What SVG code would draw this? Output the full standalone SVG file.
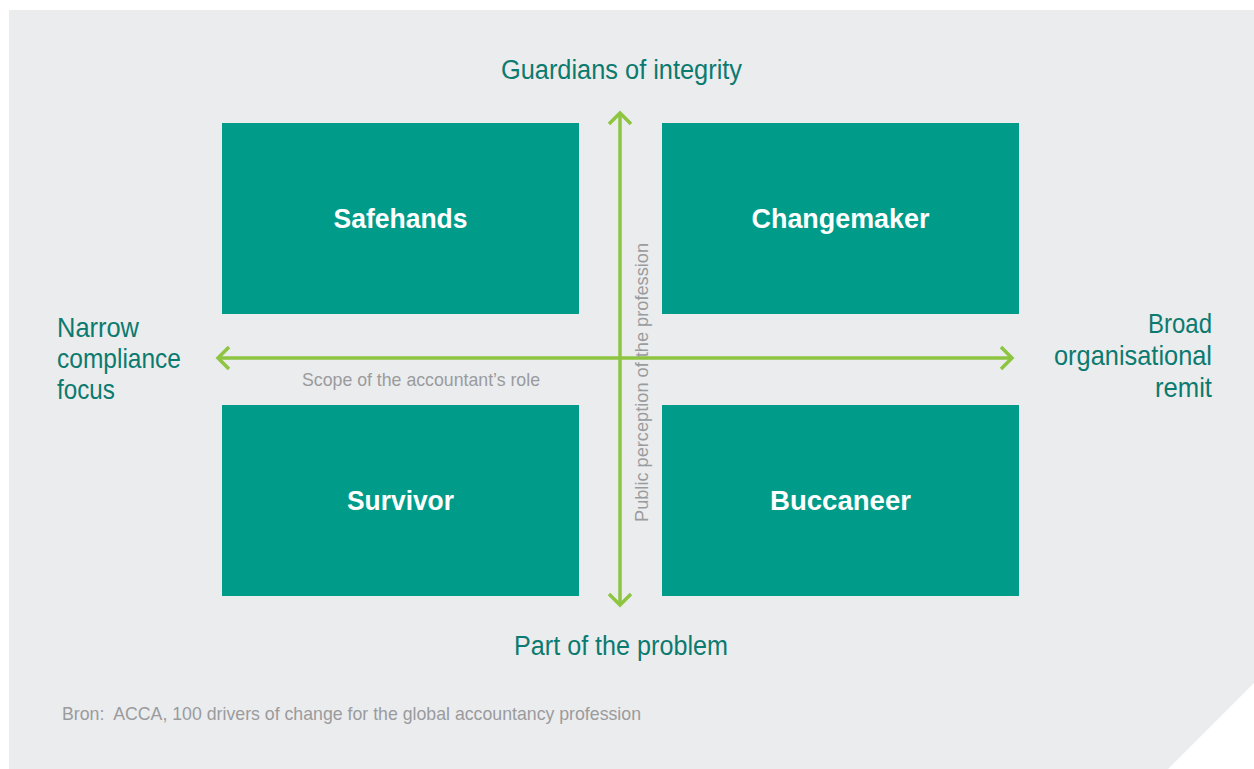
<svg xmlns="http://www.w3.org/2000/svg" width="1254" height="769" viewBox="0 0 1254 769">
  <defs>
    <style>
      .panel { fill: #EBECEE; }
      .box { fill: #009C89; }
      .box-label { font-family: "Liberation Sans", Arial, sans-serif; font-weight: bold; font-size: 28px; fill: #FFFFFF; text-anchor: middle; }
      .pole { font-family: "Liberation Sans", Arial, sans-serif; font-size: 27px; fill: #0B7A6F; }
      .side { font-size: 28px; }
      .axis-label { font-family: "Liberation Sans", Arial, sans-serif; font-size: 19px; fill: #9A9B9D; }
      .source { font-family: "Liberation Sans", Arial, sans-serif; font-size: 19px; fill: #9A9B9D; }
      .axis { stroke: #8DC540; stroke-width: 3.5; fill: none; }
      .head { stroke: #8DC540; stroke-width: 3.5; fill: none; stroke-linecap: butt; stroke-linejoin: miter; }
    </style>
  </defs>

  <!-- background panel with clipped lower-right corner -->
  <polygon class="panel" points="9,10 1254,10 1254,683 1168,769 9,769"/>

  <!-- quadrants -->
  <g id="safehands">
    <rect class="box" x="222" y="123" width="357" height="191"/>
    <text class="box-label" x="400.5" y="228" textLength="134" lengthAdjust="spacingAndGlyphs">Safehands</text>
  </g>
  <g id="changemaker">
    <rect class="box" x="662" y="123" width="357" height="191"/>
    <text class="box-label" x="840.5" y="228" textLength="178" lengthAdjust="spacingAndGlyphs">Changemaker</text>
  </g>
  <g id="survivor">
    <rect class="box" x="222" y="405" width="357" height="191"/>
    <text class="box-label" x="400.5" y="510" textLength="107" lengthAdjust="spacingAndGlyphs">Survivor</text>
  </g>
  <g id="buccaneer">
    <rect class="box" x="662" y="405" width="357" height="191"/>
    <text class="box-label" x="840.5" y="510" textLength="141" lengthAdjust="spacingAndGlyphs">Buccaneer</text>
  </g>

  <!-- axes -->
  <g id="connectors">
    <line class="axis" x1="620" y1="114" x2="620" y2="605"/>
    <polyline class="head" points="609,124 620,113 631,124"/>
    <polyline class="head" points="609,594 620,605 631,594"/>
    <line class="axis" x1="219" y1="358" x2="1011" y2="358"/>
    <polyline class="head" points="229,347 218,358 229,369"/>
    <polyline class="head" points="1001,347 1012,358 1001,369"/>
  </g>

  <!-- axis labels -->
  <g id="axis-labels">
    <text class="axis-label" x="302" y="386" textLength="238" lengthAdjust="spacingAndGlyphs">Scope of the accountant’s role</text>
    <text class="axis-label" transform="translate(648,522) rotate(-90)" x="0" y="0" textLength="279" lengthAdjust="spacingAndGlyphs">Public perception of the profession</text>
  </g>

  <!-- pole labels -->
  <g id="top-pole">
    <text class="pole" x="501" y="79" textLength="241" lengthAdjust="spacingAndGlyphs">Guardians of integrity</text>
  </g>
  <g id="bottom-pole">
    <text class="pole" x="514" y="655" textLength="214" lengthAdjust="spacingAndGlyphs">Part of the problem</text>
  </g>
  <g id="left-pole">
    <text class="pole side" x="57" y="337" textLength="82" lengthAdjust="spacingAndGlyphs">Narrow</text>
    <text class="pole side" x="57" y="368" textLength="124" lengthAdjust="spacingAndGlyphs">compliance</text>
    <text class="pole side" x="57" y="399" textLength="58" lengthAdjust="spacingAndGlyphs">focus</text>
  </g>
  <g id="right-pole">
    <text class="pole side" x="1148" y="333" textLength="64" lengthAdjust="spacingAndGlyphs">Broad</text>
    <text class="pole side" x="1054" y="365" textLength="158" lengthAdjust="spacingAndGlyphs">organisational</text>
    <text class="pole side" x="1155" y="397" textLength="57" lengthAdjust="spacingAndGlyphs">remit</text>
  </g>

  <!-- source note -->
  <text class="source" x="62" y="720" textLength="579" lengthAdjust="spacingAndGlyphs">Bron:&#160; ACCA, 100 drivers of change for the global accountancy profession</text>
</svg>
